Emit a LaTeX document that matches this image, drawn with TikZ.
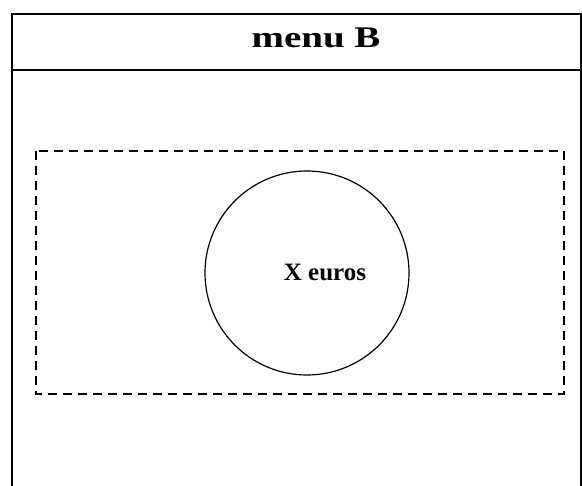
\documentclass[tikz,border=0pt]{standalone}
\usepackage{fontspec}
\setmainfont{Liberation Serif}
\begin{document}
\begin{tikzpicture}[x=1pt,y=-1pt,
  frame/.style={draw=black,line width=2pt},
  dashbox/.style={draw=black,line width=1.5pt,dash pattern=on 9pt off 6pt},
  ring/.style={draw=black,line width=1.2pt}]
\useasboundingbox (0,0) rectangle (582,486);
\draw[frame] (12,500) -- (12,14) -- (581,14) -- (581,500);
\draw[frame] (12,70) -- (581,70);
\node[font=\bfseries\fontsize{30}{36}\selectfont,xscale=1.3,anchor=base,inner sep=0pt] (title) at (316,48) {menu B};
\draw[dashbox] (36,151) rectangle (564,394);
\node[ring,circle,minimum size=204pt,inner sep=0pt] (c) at (307,273) {};
\node[font=\bfseries\fontsize{25}{30}\selectfont,anchor=base,inner sep=0pt] (lbl) at (325,281) {X euros};
\end{tikzpicture}
\end{document}
